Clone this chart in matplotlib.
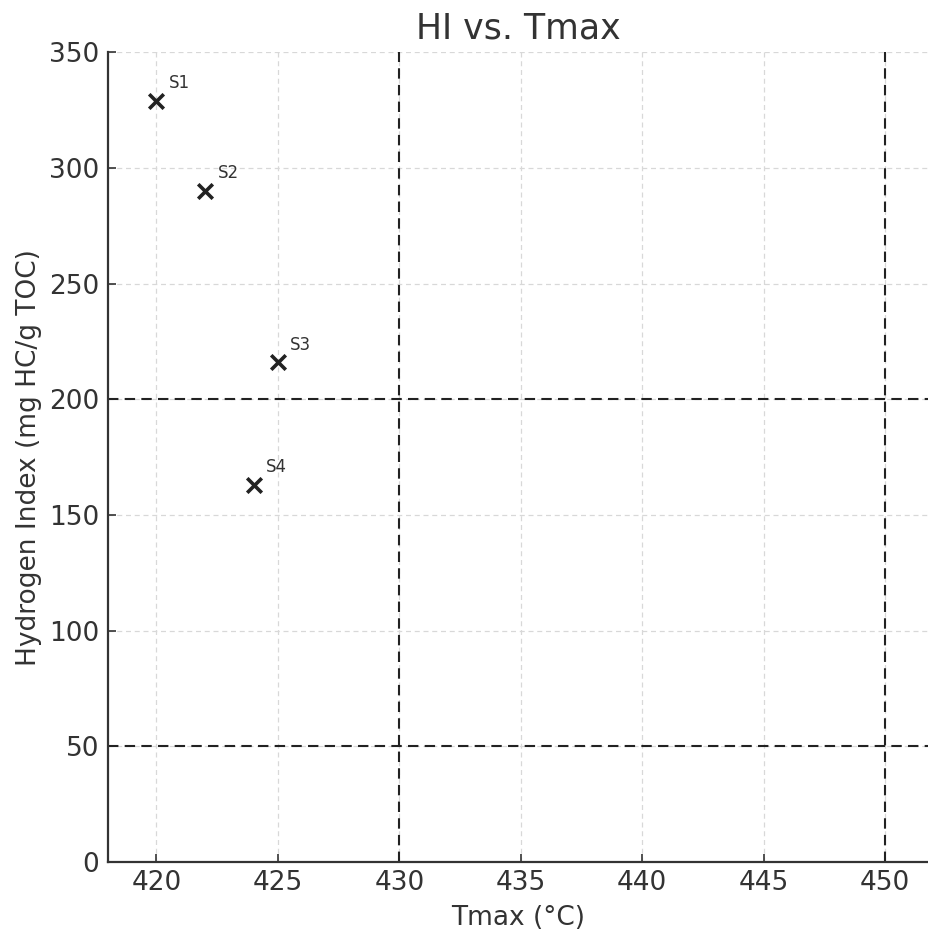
import matplotlib
matplotlib.use("Agg")
import matplotlib.pyplot as plt

# sample data
samples = ["S1", "S2", "S3", "S4"]
tmax = [420, 422, 425, 424]
hi = [329, 290, 216, 163]

# dashed boundary lines
tmax_bounds = [430, 450]
hi_bounds = [200, 50]

TEXT = "#333333"
plt.rcParams["font.family"] = ["DejaVu Sans"]
plt.rcParams["text.color"] = TEXT
plt.rcParams["axes.labelcolor"] = TEXT
plt.rcParams["xtick.color"] = TEXT
plt.rcParams["ytick.color"] = TEXT

fig = plt.figure(figsize=(9.29, 9.31), dpi=100)
ax = fig.add_axes([0.116, 0.074, 0.884, 0.870])

ax.grid(True, linestyle="--", color="#d8d8d8", linewidth=0.9, dashes=(4, 3))
ax.set_axisbelow(True)

ax.scatter(tmax, hi, marker="x", s=110, linewidths=2.6, color="#222222", zorder=3)
for name, x, y in zip(samples, tmax, hi):
    ax.annotate(name, (x, y), xytext=(9, 9), textcoords="offset points",
                fontsize=12, color=TEXT)

for x in tmax_bounds:
    ax.axvline(x, color="#222222", linestyle="--", linewidth=1.5, dashes=(5, 3))
for y in hi_bounds:
    ax.axhline(y, color="#222222", linestyle="--", linewidth=1.5, dashes=(5, 3))

ax.set_xlim(418, 451.8)
ax.set_ylim(0, 350)
ax.set_xticks(range(420, 451, 5))
ax.set_yticks(range(0, 351, 50))

ax.spines["top"].set_visible(False)
ax.spines["right"].set_visible(False)
for s in ("left", "bottom"):
    ax.spines[s].set_linewidth(1.6)
    ax.spines[s].set_color(TEXT)
ax.tick_params(direction="in", length=6, width=1.2, labelsize=19, pad=6)

ax.set_xlabel("Tmax (°C)", fontsize=19, labelpad=6)
ax.set_ylabel("Hydrogen Index (mg HC/g TOC)", fontsize=19, labelpad=5)
ax.set_title("HI vs. Tmax", fontsize=25, pad=10)

fig.savefig("out.png", dpi=100)
